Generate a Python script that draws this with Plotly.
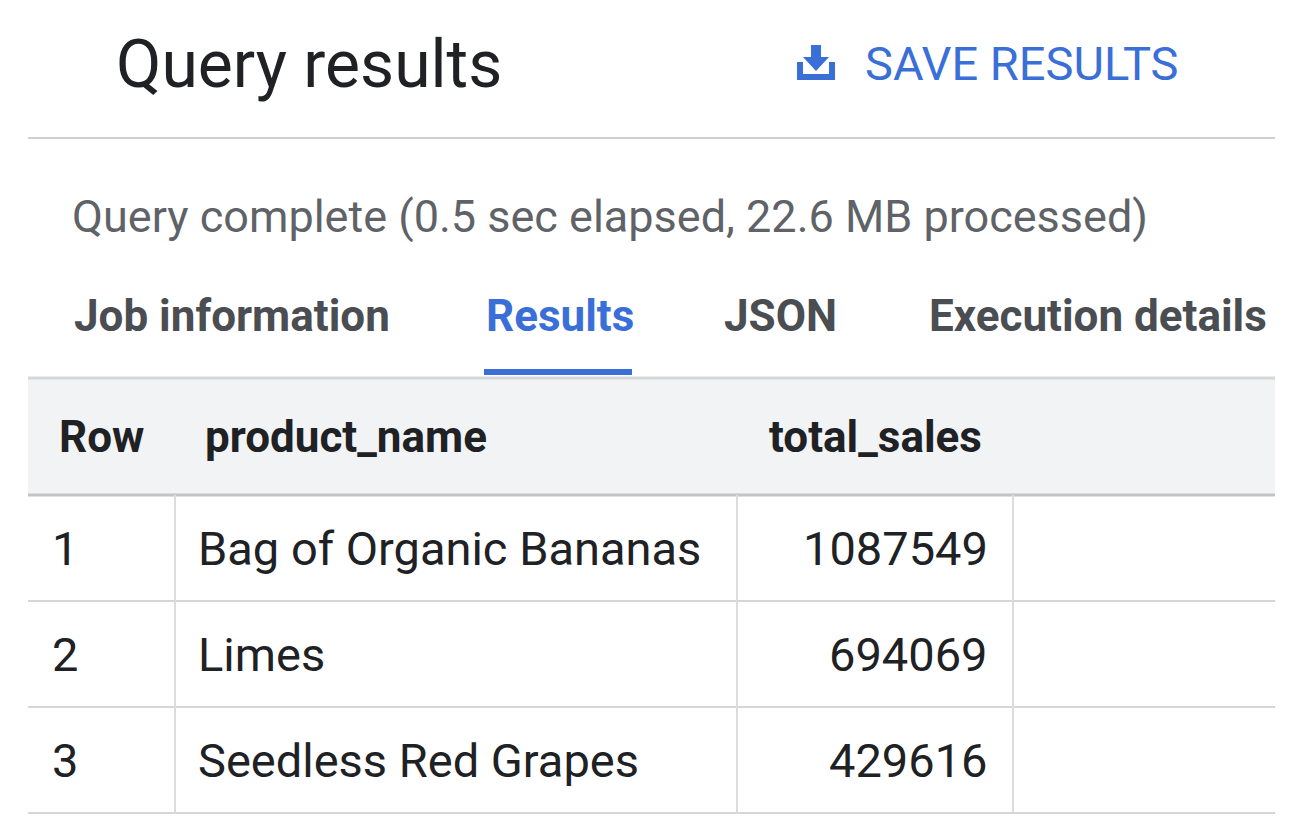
import plotly.graph_objects as go

title = "Query results"
save_label = "SAVE RESULTS"
status = "Query complete (0.5 sec elapsed, 22.6 MB processed)"
tabs = ["Job information", "Results", "JSON", "Execution details"]
tab_x = [72, 484, 722, 927]
active_tab = 1
columns = ["Row", "product_name", "total_sales"]
rows = [1, 2, 3]
product_names = ["Bag of Organic Bananas", "Limes", "Seedless Red Grapes"]
total_sales = [1087549, 694069, 429616]

BLUE = "#3b6fd8"
DARK = "#202124"
GRAY = "#5f6368"
FONT = "Roboto"

fig = go.Figure()
ann = []
shapes = []

def text(x, y, s, size, color=DARK, anchor="left", bold=False):
    ann.append(dict(x=x, y=y, xref="x", yref="y", text=f"<b>{s}</b>" if bold else s,
                    showarrow=False, xanchor=anchor, yanchor="middle",
                    font=dict(family=FONT, size=size, color=color)))

def line(x0, y0, x1, y1, color, w=2):
    shapes.append(dict(type="line", x0=x0, y0=y0, x1=x1, y1=y1, xref="x", yref="y",
                       line=dict(color=color, width=w)))

text(114, 64, title, 66)
shapes.append(dict(type="path", xref="x", yref="y",
                   path="M797,62 L797,80 L835,80 L835,62 L829,62 L829,74 L803,74 L803,62 Z",
                   fillcolor=BLUE, line=dict(width=0)))
shapes.append(dict(type="path", xref="x", yref="y",
                   path="M811,45 L821,45 L821,57 L829,57 L816,71 L803,57 L811,57 Z",
                   fillcolor=BLUE, line=dict(width=0)))
text(863, 63, f"<b>{save_label}</b>".replace("<b>", "").replace("</b>", ""), 47, BLUE)
line(28, 138, 1275, 138, "#d0d0d0", 2)
text(70, 216, status, 45, GRAY)
for i, (t, x) in enumerate(zip(tabs, tab_x)):
    text(x, 316, t, 44, BLUE if i == active_tab else "#4a4d51", bold=True)
shapes.append(dict(type="rect", xref="x", yref="y", x0=484, x1=632, y0=369, y1=375,
                   fillcolor=BLUE, line=dict(width=0)))
shapes.append(dict(type="rect", xref="x", yref="y", x0=28, x1=1275, y0=378, y1=495,
                   fillcolor="#f1f3f4", line=dict(width=0), layer="below"))
line(28, 378, 1275, 378, "#d6d6d6", 3)
line(28, 495, 1275, 495, "#c4c4c4", 3)
text(57, 437, columns[0], 44, DARK, bold=True)
text(203, 437, columns[1], 44, DARK, bold=True)
text(984, 437, columns[2], 44, DARK, "right", bold=True)
row_h = 106
for i, (r, n, v) in enumerate(zip(rows, product_names, total_sales)):
    yc = 495 + row_h * i + row_h / 2
    text(50, yc, str(r), 47)
    text(196, yc, n, 47)
    text(990, yc, str(v), 47, DARK, "right")
    line(28, 495 + row_h * (i + 1), 1275, 495 + row_h * (i + 1), "#d6d6d6", 2)
for x in [175, 737, 1013]:
    line(x, 495, x, 495 + row_h * len(rows), "#dcdcdc", 2)

fig.update_layout(
    width=1300, height=820, margin=dict(l=0, r=0, t=0, b=0),
    paper_bgcolor="white", plot_bgcolor="white", showlegend=False,
    xaxis=dict(range=[8, 1308], visible=False, fixedrange=True),
    yaxis=dict(range=[828, 8], visible=False, fixedrange=True),
    annotations=ann, shapes=shapes,
)
fig.write_html("out.html")
